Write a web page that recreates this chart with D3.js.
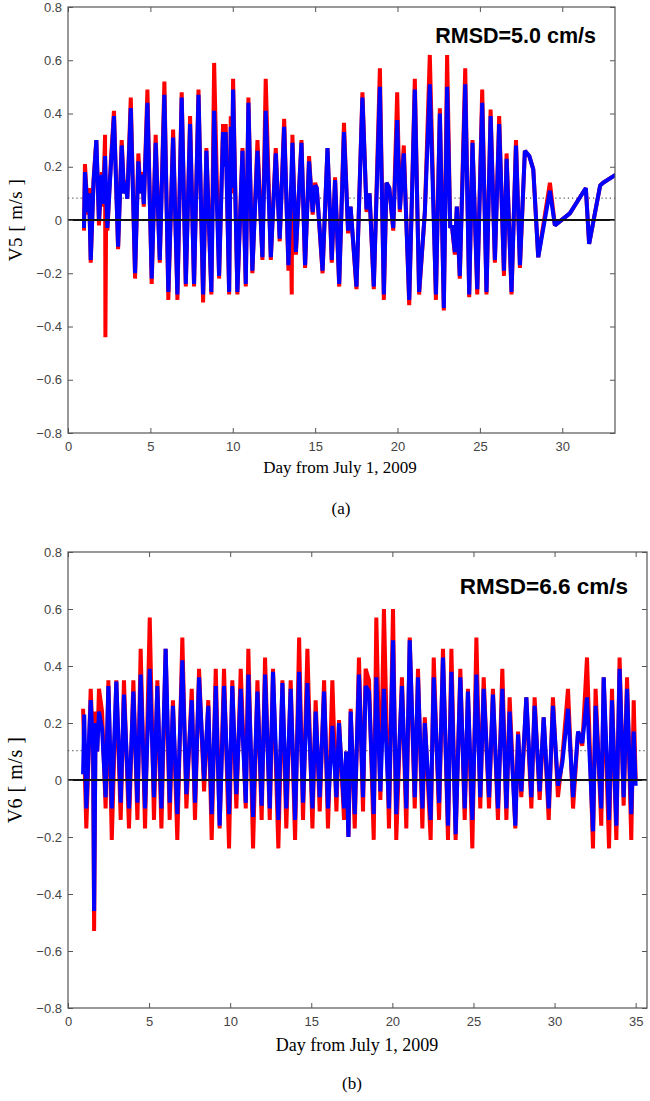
<!DOCTYPE html>
<html>
<head>
<meta charset="utf-8">
<script src="https://cdn.jsdelivr.net/npm/d3@7"></script>
<style>
  body { margin: 0; background: #fff; }
  svg { display: block; }
</style>
</head>
<body>
<div id="chart"></div>
<script>
// --- data (day from July 1 2009, velocity in m/s) ---
const yTicks = [-0.8, -0.6, -0.4, -0.2, 0, 0.2, 0.4, 0.6, 0.8];
const xTicksA = [0, 5, 10, 15, 20, 25, 30];
const xTicksB = [0, 5, 10, 15, 20, 25, 30, 35];

// panel (a) V5, observed (red)
const obsV5 = [[0.97,-0.04],[1.03,0.21],[1.2,0.02],[1.28,0.12],[1.38,-0.16],[1.55,0.15],[1.72,0.30],[1.88,-0.02],[2.05,0.18],[2.12,0.05],[2.25,0.32],[2.27,-0.44],[2.32,0.08],[2.39,-0.04],[2.6,0.22],[2.79,0.41],[3.04,-0.11],[3.26,0.30],[3.4,0.1],[3.5,0.15],[3.6,0.08],[3.81,0.46],[4.07,-0.22],[4.27,0.25],[4.4,0.1],[4.5,0.18],[4.6,0.05],[4.82,0.49],[5.08,-0.24],[5.32,0.32],[5.57,-0.16],[5.85,0.52],[6.09,-0.30],[6.38,0.34],[6.64,-0.30],[6.90,0.48],[7.15,-0.25],[7.41,0.39],[7.65,-0.25],[7.92,0.49],[8.20,-0.31],[8.40,0.27],[8.70,-0.28],[8.87,0.59],[9.17,-0.22],[9.41,0.36],[9.50,0.2],[9.57,0.36],[9.78,-0.28],[9.88,0.39],[9.95,0.1],[10.02,0.53],[10.28,-0.28],[10.59,0.27],[10.79,-0.25],[10.95,0.46],[11.19,-0.2],[11.50,0.30],[11.80,-0.15],[12.00,0.53],[12.31,-0.15],[12.61,0.27],[12.85,-0.08],[13.12,0.38],[13.38,-0.19],[13.5,0.05],[13.58,-0.28],[13.62,0.32],[13.83,-0.13],[14.17,0.30],[14.39,-0.18],[14.63,0.24],[14.85,0.02],[15.0,0.14],[15.1,0.12],[15.45,-0.2],[15.75,0.27],[16.01,-0.16],[16.21,0.16],[16.46,-0.25],[16.75,0.365],[17.0,-0.05],[17.15,0.05],[17.51,-0.26],[17.87,0.48],[18.12,0.03],[18.3,0.1],[18.56,-0.26],[18.93,0.57],[19.17,-0.30],[19.33,0.14],[19.5,0.12],[19.74,-0.04],[19.98,0.48],[20.14,0.03],[20.38,0.28],[20.71,-0.32],[21.05,0.53],[21.31,-0.28],[21.66,0.03],[21.96,0.62],[22.33,-0.30],[22.57,0.42],[22.81,-0.34],[23.01,0.62],[23.2,-0.03],[23.3,-0.02],[23.48,-0.13],[23.6,0.05],[23.78,-0.22],[24.11,0.57],[24.35,-0.29],[24.55,0.30],[24.84,-0.28],[25.14,0.49],[25.40,-0.28],[25.65,0.415],[25.91,-0.16],[26.17,0.39],[26.46,-0.21],[26.62,0.25],[26.92,-0.28],[27.19,0.30],[27.43,-0.18],[27.73,0.26],[28.0,0.24],[28.24,0.19],[28.54,-0.14],[29.25,0.14],[29.55,-0.02],[30.46,0.025],[31.43,0.12],[31.63,-0.09],[32.3,0.13],[32.48,0.14],[33.25,0.17]];

// panel (a) V5, model (blue)
const modV5 = [[0.97,-0.03],[1.03,0.18],[1.2,0.03],[1.28,0.1],[1.38,-0.15],[1.55,0.14],[1.72,0.30],[1.88,0.0],[2.05,0.17],[2.12,0.06],[2.25,0.24],[2.32,0.1],[2.39,-0.03],[2.6,0.2],[2.79,0.39],[3.04,-0.10],[3.26,0.28],[3.4,0.1],[3.5,0.14],[3.6,0.08],[3.81,0.42],[4.07,-0.20],[4.27,0.22],[4.4,0.1],[4.5,0.17],[4.6,0.06],[4.82,0.44],[5.08,-0.22],[5.32,0.29],[5.57,-0.15],[5.85,0.47],[6.09,-0.27],[6.38,0.31],[6.64,-0.28],[6.90,0.46],[7.15,-0.24],[7.41,0.36],[7.65,-0.24],[7.92,0.47],[8.20,-0.28],[8.40,0.26],[8.70,-0.27],[8.87,0.41],[9.17,-0.21],[9.41,0.33],[9.50,0.2],[9.57,0.33],[9.78,-0.27],[9.88,0.35],[9.95,0.12],[10.02,0.49],[10.28,-0.27],[10.59,0.26],[10.79,-0.24],[10.95,0.44],[11.19,-0.19],[11.50,0.26],[11.80,-0.14],[12.00,0.41],[12.31,-0.14],[12.61,0.25],[12.85,-0.07],[13.12,0.35],[13.38,-0.17],[13.5,0.05],[13.62,0.29],[13.83,-0.12],[14.17,0.29],[14.39,-0.17],[14.63,0.22],[14.85,0.03],[15.0,0.13],[15.1,0.12],[15.45,-0.19],[15.75,0.27],[16.01,-0.15],[16.21,0.15],[16.46,-0.24],[16.75,0.33],[17.0,-0.04],[17.15,0.05],[17.51,-0.25],[17.87,0.46],[18.12,0.04],[18.3,0.1],[18.56,-0.25],[18.93,0.50],[19.17,-0.28],[19.33,0.14],[19.5,0.12],[19.74,-0.03],[19.98,0.375],[20.14,0.04],[20.38,0.25],[20.71,-0.30],[21.05,0.49],[21.31,-0.27],[21.66,0.03],[21.96,0.51],[22.33,-0.28],[22.57,0.40],[22.81,-0.33],[23.01,0.50],[23.2,-0.03],[23.3,-0.02],[23.48,-0.12],[23.6,0.05],[23.78,-0.21],[24.11,0.51],[24.35,-0.28],[24.55,0.29],[24.84,-0.26],[25.14,0.44],[25.40,-0.27],[25.65,0.39],[25.91,-0.15],[26.17,0.36],[26.46,-0.19],[26.62,0.23],[26.92,-0.27],[27.19,0.28],[27.43,-0.17],[27.73,0.26],[28.0,0.24],[28.24,0.19],[28.54,-0.14],[29.25,0.11],[29.55,-0.02],[30.46,0.025],[31.43,0.12],[31.63,-0.09],[32.3,0.13],[32.48,0.14],[33.25,0.17]];

// panel (b) V6, observed (red)
const obsV6 = [[0.93,0.25],[1.13,-0.17],[1.40,0.32],[1.55,0.1],[1.61,-0.53],[1.7,0.24],[1.8,0.1],[1.91,0.32],[2.1,0.24],[2.32,-0.10],[2.49,0.35],[2.70,-0.21],[2.98,0.35],[3.25,-0.14],[3.45,0.35],[3.76,-0.17],[4.03,0.35],[4.28,-0.14],[4.48,0.46],[4.75,-0.17],[5.04,0.57],[5.30,-0.14],[5.51,0.35],[5.76,-0.17],[6.02,0.46],[6.27,-0.14],[6.47,0.28],[6.74,-0.21],[7.05,0.50],[7.30,-0.10],[7.63,0.32],[7.83,-0.14],[8.08,0.39],[8.39,-0.04],[8.65,0.28],[8.86,-0.21],[9.11,0.39],[9.35,-0.17],[9.62,0.39],[9.93,-0.24],[10.13,0.35],[10.38,-0.10],[10.65,0.39],[10.96,-0.10],[11.12,0.46],[11.41,-0.24],[11.68,0.35],[11.94,-0.14],[12.15,0.43],[12.44,-0.14],[12.64,0.39],[12.97,-0.24],[13.22,0.35],[13.46,-0.17],[13.73,0.35],[14.00,-0.21],[14.25,0.50],[14.49,-0.14],[14.76,0.46],[15.07,-0.17],[15.27,0.28],[15.52,-0.11],[15.79,0.35],[16.03,-0.17],[16.30,0.35],[16.55,-0.11],[16.71,0.21],[17.02,-0.14],[17.15,0.1],[17.29,-0.20],[17.43,0.25],[17.68,-0.17],[17.94,0.43],[18.19,-0.11],[18.35,0.39],[18.56,0.35],[18.85,-0.21],[19.01,0.57],[19.26,-0.07],[19.48,0.60],[19.79,-0.17],[20.04,0.60],[20.24,-0.21],[20.59,0.36],[20.86,-0.17],[21.07,0.50],[21.38,-0.10],[21.58,0.39],[21.85,-0.17],[22.00,0.22],[22.36,-0.21],[22.55,0.43],[22.88,-0.14],[23.12,0.46],[23.43,-0.21],[23.64,0.46],[23.90,-0.21],[24.19,0.39],[24.46,-0.14],[24.66,0.32],[24.93,-0.24],[25.18,0.50],[25.42,-0.10],[25.63,0.36],[25.96,-0.10],[26.20,0.32],[26.51,-0.14],[26.78,0.39],[27.03,-0.14],[27.23,0.29],[27.58,-0.17],[27.75,0.17],[27.95,-0.06],[28.26,0.29],[28.57,-0.10],[28.77,0.29],[29.08,-0.07],[29.33,0.22],[29.64,-0.14],[29.90,0.29],[30.21,-0.06],[30.48,0.08],[30.83,0.32],[31.14,-0.10],[31.45,0.17],[31.71,0.12],[32.00,0.43],[32.37,-0.24],[32.53,0.32],[32.88,-0.16],[33.03,0.36],[33.36,-0.24],[33.54,0.32],[33.81,-0.21],[34.01,0.43],[34.26,-0.09],[34.47,0.36],[34.73,-0.21],[34.88,0.28],[35.00,0.0]];

// panel (b) V6, model (blue)
const modV6 = [[0.93,0.02],[1.0,0.23],[1.13,-0.10],[1.40,0.28],[1.55,0.1],[1.61,-0.46],[1.7,0.2],[1.8,0.1],[1.91,0.24],[2.1,0.18],[2.32,-0.06],[2.49,0.33],[2.70,-0.10],[2.98,0.345],[3.25,-0.08],[3.45,0.30],[3.76,-0.10],[4.03,0.31],[4.28,-0.08],[4.48,0.37],[4.75,-0.10],[5.04,0.39],[5.30,-0.06],[5.51,0.33],[5.76,-0.10],[6.02,0.46],[6.27,-0.08],[6.47,0.26],[6.74,-0.12],[7.05,0.42],[7.30,-0.05],[7.63,0.28],[7.83,-0.08],[8.08,0.36],[8.39,0.0],[8.65,0.26],[8.86,-0.12],[9.11,0.33],[9.35,-0.16],[9.62,0.33],[9.93,-0.12],[10.13,0.33],[10.38,-0.05],[10.65,0.32],[10.96,-0.08],[11.12,0.37],[11.41,-0.13],[11.68,0.31],[11.94,-0.09],[12.15,0.37],[12.44,-0.10],[12.64,0.38],[12.97,-0.14],[13.22,0.34],[13.46,-0.10],[13.73,0.32],[14.00,-0.14],[14.25,0.38],[14.49,-0.08],[14.76,0.34],[15.07,-0.10],[15.27,0.24],[15.52,-0.06],[15.79,0.31],[16.03,-0.10],[16.30,0.19],[16.55,-0.06],[16.71,0.20],[17.02,-0.10],[17.15,0.1],[17.29,-0.20],[17.43,0.24],[17.68,-0.12],[17.94,0.37],[18.19,-0.06],[18.35,0.33],[18.56,0.31],[18.85,-0.12],[19.01,0.36],[19.26,-0.04],[19.48,0.32],[19.79,-0.10],[20.04,0.49],[20.24,-0.12],[20.59,0.33],[20.86,-0.10],[21.07,0.49],[21.38,-0.06],[21.58,0.36],[21.85,-0.10],[22.00,0.20],[22.36,-0.14],[22.55,0.36],[22.88,-0.08],[23.12,0.43],[23.43,-0.16],[23.64,0.38],[23.90,-0.19],[24.19,0.36],[24.46,-0.10],[24.66,0.31],[24.93,-0.14],[25.18,0.37],[25.42,-0.06],[25.63,0.32],[25.96,-0.06],[26.20,0.30],[26.51,-0.10],[26.78,0.32],[27.03,-0.10],[27.23,0.24],[27.58,-0.16],[27.75,0.16],[27.95,-0.04],[28.26,0.29],[28.57,-0.06],[28.77,0.26],[29.08,-0.04],[29.33,0.22],[29.64,-0.10],[29.90,0.26],[30.21,-0.02],[30.48,0.06],[30.83,0.25],[31.14,-0.06],[31.45,0.17],[31.71,0.13],[32.00,0.29],[32.37,-0.18],[32.53,0.26],[32.88,-0.10],[33.03,0.36],[33.36,-0.14],[33.54,0.28],[33.81,-0.16],[34.01,0.39],[34.26,-0.06],[34.47,0.32],[34.73,-0.12],[34.88,0.17],[35.00,-0.02]];

const meanV5 = 0.082;
const meanV6 = 0.103;

const svg = d3.select("#chart")
  .append("svg")
  .attr("width", 650)
  .attr("height", 1101);

const fmtY = d => d === 0 ? "0" : d3.format(".1f")(d);

function drawPanel(o) {
  const x = d3.scaleLinear().domain([0, o.xMax]).range([o.left, o.right]);
  const y = d3.scaleLinear().domain([-0.8, 0.8]).range([o.bottom, o.top]);
  const g = svg.append("g");

  g.append("clipPath").attr("id", o.id + "clip")
    .append("rect")
    .attr("x", o.left).attr("y", o.top)
    .attr("width", o.right - o.left).attr("height", o.bottom - o.top);

  const plot = g.append("g").attr("clip-path", `url(#${o.id}clip)`);

  // mean (dotted) and zero line
  plot.append("line")
    .attr("x1", o.left).attr("x2", o.right)
    .attr("y1", y(o.mean)).attr("y2", y(o.mean))
    .attr("stroke", "#555").attr("stroke-width", 1.2)
    .attr("stroke-dasharray", "1.2,3");

  const line = d3.line().x(d => x(d[0])).y(d => y(d[1]));

  plot.append("path").datum(o.obs)
    .attr("d", line)
    .attr("fill", "none")
    .attr("stroke", "#ff0000")
    .attr("stroke-width", 4)
    .attr("stroke-linejoin", "bevel");

  plot.append("path").datum(o.mod)
    .attr("d", line)
    .attr("fill", "none")
    .attr("stroke", "#0000ff")
    .attr("stroke-width", 4)
    .attr("stroke-linejoin", "bevel");

  plot.append("line")
    .attr("x1", o.left).attr("x2", o.right)
    .attr("y1", y(0)).attr("y2", y(0))
    .attr("stroke", "#111").attr("stroke-width", 2);

  // axes, ticks pointing inward
  const axes = [
    d3.axisBottom(x).tickValues(o.xTicks).tickSize(-5).tickPadding(9),
    d3.axisTop(x).tickValues(o.xTicks).tickSize(-5).tickFormat(""),
    d3.axisLeft(y).tickValues(yTicks).tickSize(-5).tickPadding(6).tickFormat(fmtY),
    d3.axisRight(y).tickValues(yTicks).tickSize(-5).tickFormat("")
  ];
  const pos = [`translate(0,${o.bottom})`, `translate(0,${o.top})`,
               `translate(${o.left},0)`, `translate(${o.right},0)`];
  axes.forEach((ax, i) => {
    const a = g.append("g").attr("transform", pos[i]).call(ax);
    a.select(".domain").remove();
    a.selectAll("line").attr("stroke", "#555");
    a.selectAll("text")
      .attr("fill", "#444")
      .style("font-family", "'Liberation Sans', Arial, sans-serif")
      .style("font-size", "13px");
  });

  g.append("rect")
    .attr("x", o.left).attr("y", o.top)
    .attr("width", o.right - o.left).attr("height", o.bottom - o.top)
    .attr("fill", "none").attr("stroke", "#555").attr("stroke-width", 1.2);

  g.append("text")
    .attr("x", o.rmsdX).attr("y", o.rmsdY)
    .attr("text-anchor", "end")
    .style("font-family", "'Liberation Sans', Arial, sans-serif")
    .style("font-weight", "bold")
    .style("font-size", o.rmsdSize + "px")
    .text(o.rmsd);

  g.append("text")
    .attr("x", o.xlabelX).attr("y", o.xlabelY)
    .attr("text-anchor", "middle")
    .style("font-family", "'Liberation Serif', 'Times New Roman', serif")
    .style("font-size", o.labelSize + "px")
    .text("Day from July 1, 2009");

  g.append("text")
    .attr("transform", `translate(${o.ylabelX},${y(0)}) rotate(-90)`)
    .attr("text-anchor", "middle")
    .style("font-family", "'Liberation Serif', 'Times New Roman', serif")
    .style("font-size", (o.labelSize + 2) + "px")
    .style("letter-spacing", "0.5px")
    .text(o.ylabel);

  g.append("text")
    .attr("x", o.tagX).attr("y", o.tagY)
    .attr("text-anchor", "middle")
    .style("font-family", "'Liberation Serif', 'Times New Roman', serif")
    .style("font-size", "17px")
    .text(o.tag);
}

drawPanel({
  id: "a", left: 68, right: 615, top: 7, bottom: 433, xMax: 33.2,
  xTicks: xTicksA, obs: obsV5, mod: modV5, mean: meanV5,
  rmsd: "RMSD=5.0 cm/s", rmsdX: 596, rmsdY: 43, rmsdSize: 21.5,
  xlabelX: 340, xlabelY: 473, labelSize: 17, ylabel: "V5 [ m/s ]", ylabelX: 22,
  tag: "(a)", tagX: 341, tagY: 514
});

drawPanel({
  id: "b", left: 68, right: 647, top: 552, bottom: 1008, xMax: 35.7,
  xTicks: xTicksB, obs: obsV6, mod: modV6, mean: meanV6,
  rmsd: "RMSD=6.6 cm/s", rmsdX: 628, rmsdY: 594, rmsdSize: 22.5,
  xlabelX: 357, xlabelY: 1051, labelSize: 18, ylabel: "V6 [ m/s ]", ylabelX: 22,
  tag: "(b)", tagX: 352, tagY: 1089
});
</script>
</body>
</html>
